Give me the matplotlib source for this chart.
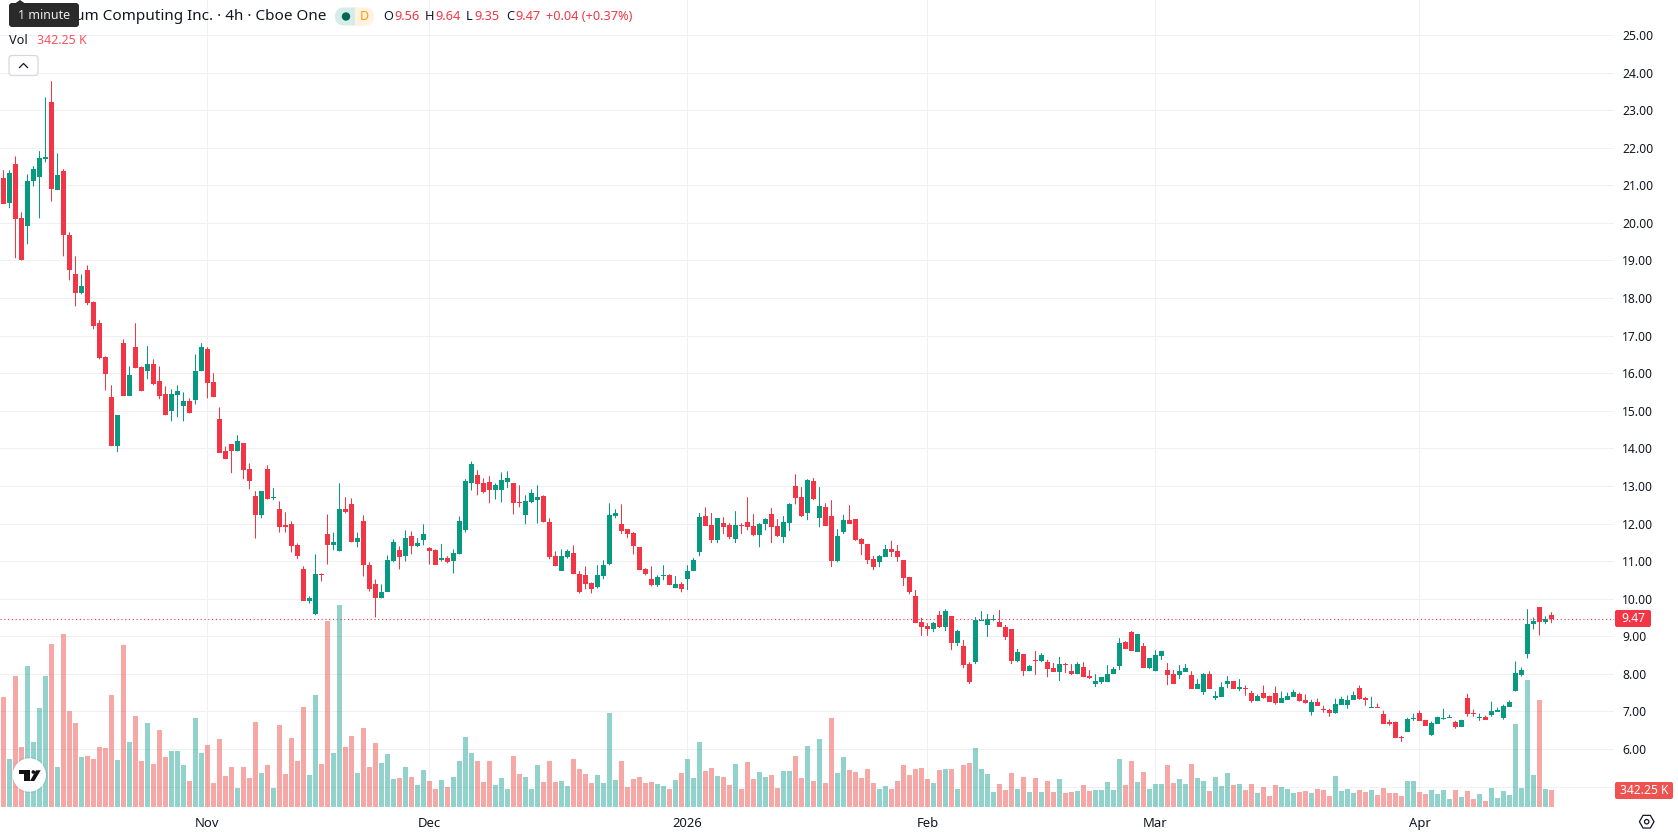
import matplotlib
matplotlib.use('Agg')
import matplotlib.pyplot as plt
import numpy as np
from matplotlib.patches import Circle, FancyBboxPatch, Polygon, Rectangle

plt.rcParams['font.family'] = ['Noto Sans', 'DejaVu Sans']

W, H = 1678, 835

opens = [
    21.19, 20.52, 21.56, 20.12, 19.91, 21.11, 21.21, 21.69, 23.21, 20.87,
    21.37, 19.67, 18.63, 18.13, 18.74, 17.89, 17.33, 16.42, 15.36, 14.06,
    16.80, 15.39, 16.69, 16.16, 16.05, 16.24, 15.78, 15.44, 14.99, 15.41,
    15.12, 15.25, 15.28, 16.05, 16.64, 15.76, 14.77, 13.92, 14.11, 13.92,
    14.13, 13.44, 12.72, 12.24, 13.44, 12.67, 12.40, 11.95, 12.00, 11.42,
    10.78, 9.95, 9.58, 10.65, 11.71, 11.42, 11.26, 12.40, 12.51, 11.50,
    12.08, 10.91, 10.38, 10.01, 10.19, 10.99, 11.29, 11.13, 11.68, 11.39,
    11.55, 11.34, 11.29, 11.02, 11.07, 10.99, 11.18, 11.84, 13.07, 13.28,
    13.07, 13.10, 12.88, 12.88, 13.10, 13.07, 12.56, 12.22, 12.56, 12.62,
    12.72, 12.03, 11.13, 10.75, 11.10, 11.21, 10.67, 10.62, 10.41, 10.30,
    10.60, 10.92, 12.20, 11.98, 11.85, 11.74, 11.37, 10.78, 10.52, 10.36,
    10.60, 10.62, 10.28, 10.39, 10.52, 10.73, 11.24, 12.20, 11.96, 11.56,
    12.01, 11.96, 11.58, 11.96, 12.04, 11.93, 11.69, 11.98, 12.25, 11.93,
    11.64, 12.01, 12.99, 12.70, 12.28, 13.13, 12.14, 12.43, 12.20, 11.00,
    11.77, 12.09, 12.12, 11.59, 11.46, 11.06, 10.98, 11.11, 11.32, 11.27,
    11.03, 10.58, 10.07, 9.38, 9.27, 9.19, 9.57, 9.25, 9.54, 8.82,
    8.74, 8.26, 8.31, 9.41, 9.30, 9.43, 9.38, 9.25, 9.19, 8.34,
    8.53, 8.07, 8.37, 8.34, 8.31, 8.15, 8.05, 8.26, 8.07, 7.99,
    8.18, 7.94, 7.73, 7.78, 7.78, 7.99, 8.21, 8.85, 9.11, 8.58,
    8.74, 8.15, 8.07, 8.47, 8.10, 7.99, 7.97, 8.05, 7.97, 7.60,
    7.52, 7.99, 7.36, 7.38, 7.73, 7.81, 7.60, 7.63, 7.50, 7.29,
    7.50, 7.42, 7.50, 7.23, 7.31, 7.39, 7.47, 7.31, 6.99, 7.26,
    7.07, 7.05, 6.97, 7.18, 7.18, 7.31, 7.63, 7.37, 7.10, 7.13,
    6.94, 6.73, 6.73, 6.33, 6.46, 6.81, 6.97, 6.78, 6.38, 6.67,
    6.81, 6.83, 6.73, 6.59, 7.37, 6.97, 6.83, 6.86, 6.91, 6.99,
    6.83, 7.13, 7.55, 7.98, 8.52, 9.32, 9.77, 9.37, 9.56,
]
highs = [
    21.40, 21.40, 21.77, 20.28, 21.29, 21.51, 21.91, 23.34, 23.77, 21.85,
    21.43, 19.75, 19.11, 18.63, 18.87, 17.91, 17.41, 16.45, 15.68, 14.88,
    16.90, 16.18, 17.33, 16.18, 16.72, 16.37, 16.18, 15.65, 15.57, 15.68,
    15.49, 15.33, 16.50, 16.80, 16.69, 16.00, 15.09, 14.05, 14.11, 14.35,
    14.13, 13.60, 12.86, 12.86, 13.55, 12.94, 12.59, 12.30, 12.06, 11.47,
    10.86, 10.06, 11.18, 10.67, 12.24, 11.76, 13.07, 12.70, 12.67, 11.76,
    12.22, 10.97, 10.51, 10.38, 11.15, 11.58, 11.39, 11.82, 11.79, 11.61,
    11.98, 11.37, 11.31, 11.45, 11.13, 11.31, 12.19, 13.18, 13.65, 13.42,
    13.20, 13.26, 13.07, 13.36, 13.39, 13.07, 13.02, 12.75, 12.91, 13.02,
    12.75, 12.14, 11.26, 11.31, 11.31, 11.42, 10.73, 10.86, 10.43, 10.89,
    11.02, 12.54, 12.38, 12.51, 11.85, 11.77, 11.37, 10.81, 10.86, 10.62,
    10.89, 10.65, 10.60, 10.44, 10.89, 11.08, 12.28, 12.43, 12.28, 12.14,
    12.17, 12.01, 12.33, 12.01, 12.70, 12.25, 12.01, 12.14, 12.41, 12.12,
    12.20, 12.54, 13.31, 12.97, 13.18, 13.21, 12.97, 12.54, 12.62, 11.85,
    12.23, 12.49, 12.12, 11.61, 11.46, 11.14, 11.16, 11.43, 11.54, 11.43,
    11.03, 10.58, 10.23, 9.49, 9.35, 9.38, 9.67, 9.72, 9.54, 9.17,
    8.90, 8.31, 9.51, 9.67, 9.59, 9.57, 9.70, 9.30, 9.19, 8.66,
    8.53, 8.23, 8.61, 8.55, 8.37, 8.29, 8.45, 8.29, 8.26, 8.31,
    8.31, 8.10, 7.99, 7.91, 8.23, 8.18, 8.95, 8.87, 9.14, 9.06,
    8.82, 8.42, 8.63, 8.61, 8.29, 8.10, 8.23, 8.26, 8.07, 7.86,
    8.02, 8.07, 7.54, 7.78, 7.94, 7.81, 7.86, 7.69, 7.55, 7.45,
    7.69, 7.42, 7.66, 7.53, 7.50, 7.58, 7.50, 7.45, 7.31, 7.34,
    7.15, 7.07, 7.34, 7.39, 7.42, 7.53, 7.69, 7.39, 7.39, 7.21,
    7.02, 6.78, 6.73, 6.35, 6.83, 6.94, 7.02, 6.78, 6.73, 6.86,
    7.07, 6.91, 6.75, 6.78, 7.47, 7.05, 6.94, 6.89, 7.26, 7.10,
    7.18, 7.29, 8.33, 8.17, 9.72, 9.50, 9.77, 9.53, 9.64,
]
lows = [
    20.50, 20.39, 19.06, 19.00, 19.43, 20.97, 20.12, 21.61, 20.57, 20.87,
    19.11, 18.47, 17.78, 18.10, 17.81, 17.17, 16.37, 15.54, 14.06, 13.90,
    15.39, 15.39, 16.13, 15.52, 15.84, 15.68, 15.31, 14.88, 14.72, 14.83,
    14.72, 14.93, 15.17, 16.05, 15.33, 15.36, 13.89, 13.71, 13.34, 13.92,
    13.18, 12.91, 11.60, 12.14, 12.64, 12.62, 11.76, 11.76, 11.23, 11.05,
    9.95, 9.87, 9.56, 10.46, 10.91, 11.29, 11.26, 12.27, 11.50, 11.37,
    10.59, 10.19, 9.50, 10.01, 10.19, 10.97, 10.78, 10.99, 11.18, 11.37,
    11.42, 10.91, 10.91, 10.99, 10.94, 10.67, 11.18, 11.76, 12.88, 12.75,
    12.80, 12.54, 12.64, 12.56, 12.94, 12.24, 12.43, 11.98, 12.54, 12.00,
    12.03, 11.05, 10.86, 10.75, 11.07, 10.65, 10.14, 10.25, 10.14, 10.27,
    10.52, 10.89, 12.14, 11.72, 11.61, 11.18, 10.76, 10.62, 10.33, 10.31,
    10.49, 10.36, 10.28, 10.17, 10.23, 10.73, 11.13, 11.93, 11.48, 11.48,
    11.72, 11.58, 11.48, 11.72, 11.82, 11.66, 11.37, 11.82, 11.48, 11.64,
    11.48, 11.80, 12.51, 12.17, 12.09, 12.62, 11.90, 11.93, 10.84, 10.97,
    11.72, 11.99, 11.54, 11.16, 10.92, 10.76, 10.84, 11.11, 11.11, 10.98,
    10.34, 10.12, 9.35, 9.01, 9.01, 9.11, 9.22, 9.14, 8.63, 8.74,
    8.15, 7.73, 8.26, 9.41, 8.98, 9.41, 9.25, 8.90, 8.26, 8.31,
    7.94, 8.07, 7.97, 8.31, 7.91, 8.05, 7.81, 8.02, 7.97, 7.99,
    7.91, 7.86, 7.65, 7.73, 7.78, 7.99, 8.10, 8.66, 8.61, 8.58,
    8.15, 8.13, 8.07, 8.37, 7.70, 7.73, 7.86, 8.05, 7.60, 7.60,
    7.44, 7.60, 7.30, 7.38, 7.62, 7.60, 7.54, 7.42, 7.23, 7.29,
    7.34, 7.26, 7.18, 7.23, 7.31, 7.39, 7.26, 7.21, 6.89, 7.15,
    6.97, 6.86, 6.94, 7.18, 7.07, 7.31, 7.31, 7.15, 7.10, 7.10,
    6.67, 6.62, 6.30, 6.19, 6.46, 6.75, 6.75, 6.62, 6.35, 6.67,
    6.78, 6.83, 6.54, 6.59, 6.86, 6.86, 6.75, 6.78, 6.86, 6.99,
    6.78, 7.13, 7.53, 7.93, 8.41, 9.18, 9.02, 9.32, 9.35,
]
closes = [
    20.50, 21.32, 20.10, 19.00, 21.11, 21.43, 21.72, 21.75, 20.89, 21.27,
    19.67, 18.74, 18.13, 18.31, 17.86, 17.25, 16.40, 15.97, 14.06, 14.88,
    15.39, 15.94, 16.13, 15.52, 16.24, 15.70, 15.39, 14.88, 15.44, 15.54,
    15.25, 14.93, 16.05, 16.69, 15.73, 15.36, 13.89, 13.71, 13.92, 14.19,
    13.42, 13.12, 12.24, 12.86, 12.64, 12.70, 11.90, 11.90, 11.39, 11.13,
    9.95, 10.03, 10.65, 10.62, 11.42, 11.50, 12.38, 12.32, 11.50, 11.61,
    10.89, 10.25, 10.01, 10.17, 11.02, 11.50, 11.10, 11.61, 11.39, 11.47,
    11.71, 11.26, 10.91, 11.07, 10.97, 11.21, 12.08, 13.12, 13.58, 13.04,
    12.83, 12.88, 13.02, 13.15, 13.20, 12.54, 12.54, 12.59, 12.80, 12.70,
    12.03, 11.10, 10.86, 11.13, 11.26, 10.65, 10.19, 10.38, 10.27, 10.62,
    10.89, 12.22, 12.28, 11.80, 11.72, 11.40, 10.76, 10.65, 10.36, 10.57,
    10.62, 10.36, 10.39, 10.25, 10.73, 11.02, 12.17, 11.93, 11.56, 12.14,
    11.90, 11.64, 11.96, 11.93, 11.90, 11.69, 11.98, 12.12, 11.90, 11.66,
    12.04, 12.51, 12.67, 12.20, 13.15, 12.65, 12.46, 11.93, 11.00, 11.66,
    12.09, 11.99, 11.56, 11.46, 11.03, 10.84, 11.14, 11.32, 11.24, 11.11,
    10.55, 10.18, 9.35, 9.25, 9.19, 9.35, 9.25, 9.67, 8.82, 9.14,
    8.23, 7.78, 9.43, 9.43, 9.46, 9.46, 9.25, 8.98, 8.34, 8.58,
    8.07, 8.21, 8.34, 8.50, 8.13, 8.05, 8.26, 8.23, 7.99, 8.26,
    7.91, 7.89, 7.81, 7.91, 7.99, 8.13, 8.82, 8.66, 8.61, 9.06,
    8.15, 8.42, 8.50, 8.61, 7.97, 7.73, 8.07, 8.15, 7.60, 7.73,
    7.99, 7.60, 7.41, 7.65, 7.81, 7.60, 7.65, 7.61, 7.29, 7.42,
    7.37, 7.26, 7.23, 7.37, 7.42, 7.53, 7.29, 7.23, 7.26, 7.15,
    7.05, 6.97, 7.21, 7.34, 7.31, 7.45, 7.34, 7.31, 7.13, 7.10,
    6.67, 6.67, 6.30, 6.30, 6.81, 6.83, 6.75, 6.62, 6.70, 6.86,
    6.83, 6.86, 6.59, 6.78, 6.94, 6.94, 6.86, 6.78, 7.02, 7.05,
    7.15, 7.26, 8.01, 8.09, 9.34, 9.40, 9.37, 9.45, 9.47,
]
# volume in thousands of shares
volumes = [
    2214, 966, 2637, 1208, 2838, 1308, 1993, 2637, 3281, 805,
    3482, 1932, 1691, 1006, 1027, 966, 1208, 1188, 2255, 946,
    3261, 1308, 1832, 926, 1691, 866, 1550, 1006, 1127, 1127,
    845, 523, 1792, 1087, 1248, 483, 1369, 624, 805, 382,
    805, 584, 1711, 684, 845, 382, 1651, 664, 1389, 926,
    2013, 644, 2255, 866, 3744, 1087, 4066, 1208, 1429, 684,
    1590, 805, 1288, 886, 1067, 564, 584, 805, 604, 443,
    745, 523, 362, 544, 403, 604, 926, 1409, 1087, 926,
    503, 926, 443, 584, 362, 1027, 664, 604, 362, 845,
    503, 926, 503, 523, 423, 966, 765, 664, 483, 644,
    483, 1892, 544, 926, 403, 564, 604, 483, 503, 463,
    423, 362, 544, 684, 966, 584, 1308, 725, 785, 624,
    604, 443, 866, 362, 906, 564, 705, 604, 644, 382,
    725, 725, 1027, 584, 1228, 523, 1369, 483, 1792, 684,
    1007, 745, 705, 584, 765, 483, 362, 423, 362, 523,
    845, 644, 765, 785, 564, 483, 745, 765, 765, 362,
    845, 886, 1188, 765, 664, 302, 463, 342, 684, 362,
    604, 302, 584, 302, 523, 302, 564, 282, 302, 322,
    443, 322, 342, 342, 503, 342, 966, 443, 926, 503,
    705, 362, 463, 463, 845, 483, 564, 463, 866, 584,
    523, 322, 604, 423, 684, 443, 463, 342, 463, 282,
    403, 221, 443, 403, 362, 282, 302, 322, 282, 362,
    342, 221, 624, 322, 362, 282, 342, 302, 342, 242,
    382, 282, 282, 221, 523, 523, 302, 262, 342, 262,
    342, 161, 342, 201, 322, 161, 262, 121, 382, 181,
    322, 242, 1671, 382, 2557, 644, 2154, 362, 342.25,
]

month_bars = [34, 71, 114, 154, 192, 236]
month_labels = ['Nov', 'Dec', '2026', 'Feb', 'Mar', 'Apr']
price_ticks = list(range(5, 26))
last_price = 9.47
last_volume = 342.25

RED = '#F23645'
GREEN = '#089981'
VOL_RED = '#EF5350'
VOL_GREEN = '#26A69A'
INK = '#131722'
GRID = '#EFF0F1'

# pane geometry in pixels: bar i sits at 3.5 + 6 * i, one price unit is 37.58 px
PANE_RIGHT, PANE_BOTTOM = 1614, 808
PX_PER_UNIT = 37.58
KILO_PER_PX = 20.13
Y_25 = 35
BASE_Y = 807

bars = np.arange(len(opens))
opens = np.array(opens)
highs = np.array(highs)
lows = np.array(lows)
closes = np.array(closes)
volumes = np.array(volumes)
up = closes >= opens

fig = plt.figure(figsize=(W / 100, H / 100), dpi=100, facecolor='white')
rect = [0, 1 - PANE_BOTTOM / H, PANE_RIGHT / W, PANE_BOTTOM / H]
xlim = (-3.5 / 6, (PANE_RIGHT - 3.5) / 6)
ylim = (25 - (PANE_BOTTOM - Y_25) / PX_PER_UNIT, 25 + Y_25 / PX_PER_UNIT)

# three stacked layers so volume sits between grid and candles
ax = fig.add_axes(rect)
ax_vol = fig.add_axes(rect)
ax_candle = fig.add_axes(rect)

ax.set_xlim(xlim)
ax.set_ylim(ylim)
ax.set_xticks(month_bars)
ax.set_xticklabels(month_labels, fontsize=9.4, color=INK)
ax.get_xticklabels()[2].set_fontweight('bold')
ax.set_yticks(price_ticks)
ax.set_yticklabels([f'{p:.2f}' for p in price_ticks], fontsize=8.7, color=INK)
ax.yaxis.tick_right()
ax.tick_params(axis='both', length=0)
ax.tick_params(axis='x', pad=6.5)
ax.tick_params(axis='y', pad=5.8)
ax.grid(True, color=GRID, linewidth=0.72)
ax.set_axisbelow(True)
for t in ax.get_yticklabels():
    t.set_verticalalignment('center_baseline')
for line in ax.get_xgridlines():
    line.set_snap(False)
for s in ax.spines.values():
    s.set_visible(False)

ax_vol.set_xlim(xlim)
ax_vol.set_ylim((BASE_Y - PANE_BOTTOM) * KILO_PER_PX, BASE_Y * KILO_PER_PX)
vol_colors = [VOL_GREEN if u else VOL_RED for u in up]
ax_vol.bar(bars, volumes, width=5 / 6, color=vol_colors, alpha=0.5,
           linewidth=0, antialiased=False)
ax_vol.axis('off')

ax_candle.set_xlim(xlim)
ax_candle.set_ylim(ylim)
candle_colors = [GREEN if u else RED for u in up]
# no snapping, otherwise wicks land one pixel right of the body centre
wicks = ax_candle.vlines(bars, lows, highs, colors=candle_colors, linewidth=0.72)
wicks.set_snap(False)
ax_candle.bar(bars, np.abs(closes - opens), bottom=np.minimum(opens, closes),
              width=5 / 6, color=candle_colors, linewidth=0, antialiased=False)
ax_candle.axhline(last_price, color=RED, linewidth=0.8, linestyle=(0, (1, 2.4)))
ax_candle.axis('off')

# header, tags and small widgets drawn on a pixel-scaled layer
ui = fig.add_axes([0, 0, 1, 1])
ui.set_xlim(0, W)
ui.set_ylim(H, 0)
ui.axis('off')


def label(x, y, s, color=INK, size=9.4, ha='left', **kw):
    ui.text(x, y, s, color=color, fontsize=size, ha=ha, va='center', **kw)


def box(x0, y0, x1, y1, face, edge='none', rad=2, lw=0):
    ui.add_patch(FancyBboxPatch((x0 + rad, y0 + rad), x1 - x0 - 2 * rad, y1 - y0 - 2 * rad,
                                boxstyle=f'round,pad={rad}', facecolor=face,
                                edgecolor=edge, linewidth=lw, zorder=3))


label(326, 16, 'Quantum Computing Inc. · 4h · Cboe One', size=11.0, ha='right')

# status pill
ui.add_patch(FancyBboxPatch((343, 7.5), 31, 18, boxstyle='round,pad=0,rounding_size=9',
                            facecolor='#FFF3E0', edgecolor='none'))
ui.add_patch(FancyBboxPatch((335, 7.5), 28, 18, boxstyle='round,pad=0,rounding_size=9',
                            facecolor='#D5EDE8', edgecolor='none'))
ui.add_patch(Rectangle((355, 7.5), 10, 18, facecolor='#FFF3E0', edgecolor='none'))
ui.add_patch(Circle((346, 16.5), 4.2, facecolor='#056656', edgecolor='none'))
label(364, 16, 'D', color='#FF9800', size=9, ha='center', fontweight='semibold')

for x, s, c in [(383, 'O', INK), (394, '9.56', RED), (425, 'H', INK), (435, '9.64', RED),
                (466, 'L', INK), (474, '9.35', RED), (506, 'C', INK), (515, '9.47', RED),
                (546, '+0.04 (+0.37%)', RED)]:
    label(x, 16, s, color=c, size=9.2)

label(9, 40.5, 'Vol', size=9.2)
label(37, 40.5, '342.25 K', color='#F7525F', size=8.9)

# collapse button
box(9, 55.5, 38, 75.5, 'white', edge='#D6D9E0', rad=3, lw=0.9)
ui.plot([19.5, 23.5, 27.5], [67.5, 63.5, 67.5], color=INK, linewidth=0.9, zorder=4)

# tooltip over the symbol name
ui.add_patch(Polygon([(15, 3.5), (20, 0), (25, 3.5)], facecolor='#2A2A2A', edgecolor='none', zorder=3))
box(9, 3, 79, 27, '#2A2A2A', rad=3)
ui.text(44, 15.5, '1 minute', color='#EDEDED', fontsize=9.0, ha='center', va='center', zorder=4)

# last price and volume tags
box(1615, 610, 1651, 627, RED, rad=2)
ui.text(1633, 618.5, f'{last_price:.2f}', color='white', fontsize=8.7, ha='center', va='center', zorder=4)
box(1615, 782, 1673, 799, VOL_RED, rad=2)
ui.text(1644, 790.5, f'{last_volume:.2f} K', color='white', fontsize=8.7, ha='center', va='center', zorder=4)

# logo badge
ui.add_patch(Circle((29.3, 775), 18, facecolor='#00000010', edgecolor='none', zorder=3))
ui.add_patch(Circle((29.3, 775), 16.7, facecolor='white', edgecolor='none', zorder=3))
ui.add_patch(Polygon([(19, 770.3), (30.3, 770.3), (30.3, 781), (23.5, 781), (23.5, 774), (19, 774)],
                     facecolor='#111111', edgecolor='none', zorder=4))
ui.add_patch(Circle((33.3, 772), 1.8, facecolor='#111111', edgecolor='none', zorder=4))
ui.add_patch(Polygon([(36, 770.3), (40.7, 770.3), (34.3, 781), (30, 781)],
                     facecolor='#111111', edgecolor='none', zorder=4))

# settings icon
ang = np.deg2rad(np.arange(0, 360, 60))
ui.add_patch(Polygon(np.c_[1646.7 + 7.3 * np.cos(ang), 821.7 + 7.3 * np.sin(ang)], closed=True,
                     facecolor='none', edgecolor=INK, linewidth=0.9, joinstyle='round'))
ui.add_patch(Circle((1646.7, 821.7), 2.2, facecolor='none', edgecolor=INK, linewidth=0.9))

fig.savefig('out.png', dpi=100)
